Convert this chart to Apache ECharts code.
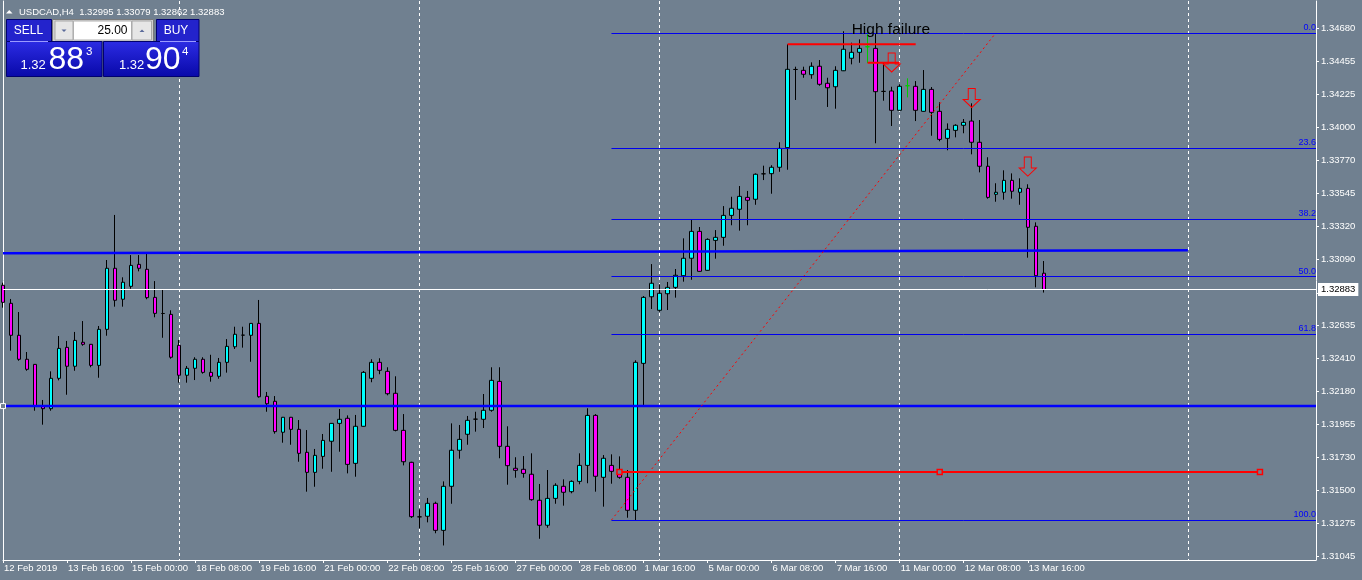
<!DOCTYPE html>
<html><head><meta charset="utf-8">
<script src="https://cdn.jsdelivr.net/npm/echarts@6/dist/echarts.min.js"></script>
<style>html,body{margin:0;padding:0;background:#708090;}#c{width:1362px;height:580px;}</style>
</head><body><div id="c"></div>
<script>
const symbolName = 'USDCAD,H4';
const opens = [1.32912,1.32788,1.32568,1.32403,1.32368,1.32079,1.32063,1.32272,1.32485,1.32355,
1.32520,1.32506,1.32361,1.32609,1.33029,1.32816,1.32905,1.33056,1.33022,1.32829,
1.32718,1.32712,1.32499,1.32293,1.32341,1.32403,1.32313,1.32286,1.32382,1.32489,
1.32569,1.32568,1.32650,1.32148,1.32114,1.31901,1.32004,1.31921,1.31763,1.31625,
1.31735,1.31839,1.31962,1.31997,1.31687,1.31942,1.32272,1.32382,1.32320,1.32169,
1.31914,1.31694,1.31319,1.31323,1.31412,1.31226,1.31529,1.31777,1.31887,1.31991,
1.31990,1.32052,1.32251,1.31804,1.31653,1.31646,1.31612,1.31433,1.31261,1.31446,
1.31529,1.31492,1.31563,1.31673,1.32017,1.31591,1.31673,1.31639,1.31591,1.31364,
1.32375,1.32833,1.32740,1.32854,1.32898,1.32978,1.33098,1.33283,1.33015,1.33221,
1.33242,1.33393,1.33435,1.33517,1.33504,1.33679,1.33680,1.33724,1.33859,1.34397,
1.34391,1.34361,1.34419,1.34302,1.34278,1.34388,1.34474,1.34515,1.34553,1.34542,
1.34246,1.34249,1.34116,1.34285,1.34281,1.34109,1.34260,1.34109,1.33923,1.33978,
1.34013,1.34042,1.33896,1.33731,1.33538,1.33552,1.33634,1.33552,1.33579,1.33318,
1.32995];
const highs = [1.32930,1.32818,1.32728,1.32453,1.32370,1.32123,1.32320,1.32563,1.32529,1.32591,
1.32666,1.32508,1.32632,1.33086,1.33396,1.32967,1.33120,1.33120,1.33132,1.32941,
1.32880,1.32740,1.32536,1.32357,1.32417,1.32417,1.32434,1.32412,1.32542,1.32627,
1.32627,1.32652,1.32811,1.32178,1.32150,1.32006,1.32006,1.31985,1.31916,1.31786,
1.31889,1.31964,1.32061,1.32017,1.32020,1.32322,1.32403,1.32410,1.32348,1.32286,
1.32026,1.31698,1.31371,1.31449,1.31423,1.31563,1.31962,1.31951,1.32013,1.32042,
1.32164,1.32348,1.32348,1.31942,1.31729,1.31737,1.31756,1.31545,1.31641,1.31550,
1.31577,1.31570,1.31756,1.32066,1.32026,1.31744,1.31749,1.31735,1.31641,1.32396,
1.32838,1.33058,1.32919,1.32935,1.33024,1.33235,1.33366,1.33313,1.33235,1.33292,
1.33457,1.33521,1.33595,1.33561,1.33682,1.33735,1.33738,1.33896,1.34570,1.34416,
1.34416,1.34446,1.34462,1.34340,1.34419,1.34660,1.34581,1.34604,1.34661,1.34646,
1.34443,1.34278,1.34295,1.34336,1.34317,1.34393,1.34276,1.34171,1.34026,1.34020,
1.34056,1.34164,1.34049,1.33793,1.33614,1.33703,1.33682,1.33648,1.33607,1.33345,
1.33079];
const lows = [1.32758,1.32462,1.32393,1.32324,1.32049,1.31953,1.32049,1.32258,1.32159,1.32324,
1.32496,1.32348,1.32276,1.32565,1.32765,1.32765,1.32888,1.33008,1.32816,1.32692,
1.32551,1.32407,1.32242,1.32242,1.32260,1.32304,1.32249,1.32269,1.32311,1.32474,
1.32483,1.32386,1.32139,1.32042,1.31891,1.31829,1.31815,1.31698,1.31492,1.31526,
1.31650,1.31629,1.31767,1.31618,1.31595,1.31940,1.32245,1.32300,1.32155,1.31907,
1.31673,1.31311,1.31240,1.31281,1.31206,1.31122,1.31409,1.31719,1.31815,1.31905,
1.31930,1.32042,1.31722,1.31540,1.31588,1.31588,1.31430,1.31168,1.31244,1.31409,
1.31396,1.31481,1.31543,1.31550,1.31492,1.31389,1.31547,1.31581,1.31313,1.31297,
1.32088,1.32749,1.32730,1.32742,1.32827,1.32937,1.32950,1.33006,1.33013,1.33095,
1.33184,1.33325,1.33288,1.33325,1.33466,1.33636,1.33542,1.33693,1.33707,1.34187,
1.34340,1.34333,1.34285,1.34139,1.34127,1.34386,1.34432,1.34443,1.34441,1.33889,
1.34182,1.34008,1.34114,1.34205,1.34042,1.34107,1.33941,1.33903,1.33841,1.33930,
1.33958,1.33813,1.33689,1.33508,1.33487,1.33501,1.33508,1.33466,1.33102,1.32898,
1.32862];
const closes = [1.32795,1.32568,1.32403,1.32334,1.32079,1.32063,1.32272,1.32478,1.32355,1.32533,
1.32506,1.32361,1.32609,1.33029,1.32809,1.32933,1.33049,1.33029,1.32827,1.32719,
1.32718,1.32417,1.32293,1.32341,1.32403,1.32313,1.32286,1.32382,1.32492,1.32575,
1.32569,1.32650,1.32145,1.32097,1.31905,1.32004,1.31921,1.31756,1.31625,1.31742,
1.31845,1.31962,1.31990,1.31680,1.31942,1.32313,1.32382,1.32327,1.32166,1.31914,
1.31698,1.31320,1.31319,1.31412,1.31226,1.31529,1.31777,1.31852,1.31983,1.31991,
1.32052,1.32258,1.31804,1.31671,1.31639,1.31618,1.31437,1.31261,1.31446,1.31536,
1.31488,1.31563,1.31673,1.32017,1.31598,1.31722,1.31632,1.31591,1.31364,1.32382,
1.32829,1.32926,1.32857,1.32898,1.32981,1.33098,1.33283,1.33008,1.33228,1.33242,
1.33393,1.33442,1.33524,1.33497,1.33676,1.33679,1.33724,1.33854,1.34398,1.34397,
1.34364,1.34419,1.34295,1.34271,1.34391,1.34536,1.34515,1.34542,1.34553,1.34244,
1.34246,1.34116,1.34281,1.34285,1.34116,1.34260,1.34102,1.33916,1.33985,1.34013,
1.34033,1.33896,1.33731,1.33517,1.33552,1.33634,1.33559,1.33579,1.33311,1.32978,
1.32883];
const greenDojiBars = [108, 113];
const totalSlots = 165;
const xTickLabels = ['12 Feb 2019','13 Feb 16:00','15 Feb 00:00','18 Feb 08:00','19 Feb 16:00','21 Feb 00:00',
  '22 Feb 08:00','25 Feb 16:00','27 Feb 00:00','28 Feb 08:00','1 Mar 16:00','5 Mar 00:00','6 Mar 08:00',
  '7 Mar 16:00','11 Mar 00:00','12 Mar 08:00','13 Mar 16:00'];
const yTickLabels = ['1.34680','1.34455','1.34225','1.34000','1.33770','1.33545','1.33320','1.33090',
  '1.32635','1.32410','1.32180','1.31955','1.31730','1.31500','1.31275','1.31045'];
const yHiddenTick = '1.32860';
const weekGridBars = [22, 52, 82, 112, 148];
const bidPrice = 1.32883;
const supportLevel = 1.32081;
const trendLine = [[0, 1.33133], [148, 1.33153]];
const fibLevels = ['0.0','23.6','38.2','50.0','61.8','100.0'];
const fibPrices = [1.34648, 1.33857, 1.33368, 1.32971, 1.32577, 1.31297];
const fibStartBar = 76;
const fibTrend = [[76, 1.31297], [124, 1.34648]];
const redLevel = 1.31627;
const redLevelBars = [77, 117, 157];
const highFailureLine = [[98, 1.34570], [114, 1.34570]];
const shortRedLine = [[108, 1.34443], [112, 1.34443]];
const arrowMarks = [[111, 1.34445], [121, 1.34201], [128, 1.33729]];
const noteText = 'High failure';
const notePos = [106, 1.34668];
const lotSize = '25.00';
const sellQuote = ['1.32', '88', '3'];
const buyQuote = ['1.32', '90', '4'];

const FONT = "'Liberation Sans', Arial, sans-serif";
const cats = Array.from({length: totalSlots}, (_, i) => 'b' + i);
const last = opens.length - 1;

const candleData = opens.map((o, i) => {
  const v = [o, closes[i], lows[i], highs[i]];
  if (greenDojiBars.includes(i)) {
    return {value: v, itemStyle: {borderColorDoji: '#00cc00', borderColor: '#00cc00', borderColor0: '#00cc00'}};
  }
  return v;
});

const tickShown = (i) => i % 8 === 0 && (i / 8) < xTickLabels.length;
const pt = (p) => [cats[p[0]], p[1]];

const chart = echarts.init(document.getElementById('c'), null, {renderer: 'canvas'});
const blueGrad = () => new echarts.graphic.LinearGradient(0, 0, 0, 1, [
  {offset: 0, color: '#2c2ce4'}, {offset: 1, color: '#0808a8'}]);

const header = symbolName + '  ' + [opens[last], highs[last], lows[last], closes[last]].map(v => v.toFixed(5)).join(' ');

const option = {
  backgroundColor: '#708090',
  animation: false,
  grid: {left: 3, right: 46, top: 1, bottom: 20, containLabel: false},
  xAxis: {
    type: 'category', data: cats, boundaryGap: false,
    axisLine: {show: true, lineStyle: {color: '#ffffff', width: 1}},
    axisTick: {show: true, length: 3, interval: tickShown, lineStyle: {color: '#ffffff'}},
    axisLabel: {interval: tickShown, formatter: (v, i) => xTickLabels[i / 8] || '', color: '#ffffff',
      align: 'left', margin: 3, fontSize: 9.5, fontFamily: FONT, padding: [0, 0, 0, 1]},
    splitLine: {show: true, interval: (i) => weekGridBars.includes(i), lineStyle: {color: '#ffffff', width: 1, type: [3, 3]}}
  },
  yAxis: [{
    type: 'value', position: 'right', min: 1.31022, max: 1.34868,
    axisLine: {show: true, lineStyle: {color: '#ffffff'}},
    axisTick: {show: true, length: 3, lineStyle: {color: '#ffffff'}, customValues: yTickLabels.concat([yHiddenTick]).map(Number)},
    axisLabel: {color: '#ffffff', fontSize: 9.5, fontFamily: FONT, margin: 5, customValues: yTickLabels.map(Number),
      formatter: (v) => v.toFixed(5)},
    splitLine: {show: false}
  }, {
    type: 'value', position: 'left', min: 1.31022, max: 1.34868,
    axisLine: {show: true, lineStyle: {color: '#ffffff'}},
    axisTick: {show: false}, axisLabel: {show: false}, splitLine: {show: false}
  }],
  series: [
    {
      type: 'candlestick', name: symbolName, data: candleData, barWidth: 4,
      itemStyle: {color: '#00ffff', color0: '#ff00ff', borderColor: '#000000', borderColor0: '#000000',
        borderColorDoji: '#000000', borderWidth: 1},
      z: 2
    },
    {
      type: 'line', name: 'support', z: 3, silent: true,
      data: [{value: [cats[0], supportLevel], symbol: 'rect', symbolSize: 5,
              itemStyle: {color: '#708090', borderColor: '#ffffff', borderWidth: 1}},
             {value: [cats[totalSlots - 1], supportLevel], symbol: 'none'}],
      showSymbol: true, lineStyle: {color: '#0000ff', width: 2.5},
      markLine: {
        silent: true, symbol: ['none', 'none'], animation: false,
        data: fibPrices.map((p, k) => [
          {coord: [cats[fibStartBar], p], lineStyle: {color: '#0000ee', width: 1, type: 'solid'},
           label: {show: true, position: 'insideEndTop', formatter: fibLevels[k], color: '#0000ff',
             fontSize: 9, fontFamily: FONT, distance: [0, 1]}},
          {coord: [cats[totalSlots - 1], p]}
        ]).concat([[
          {coord: [cats[0], bidPrice], lineStyle: {color: '#ffffff', width: 1, type: 'solid'},
           label: {show: true, position: 'end', formatter: bidPrice.toFixed(5), color: '#000000',
             backgroundColor: '#ffffff', padding: [2, 3, 1, 3], fontSize: 9.5, fontFamily: FONT, distance: 2}},
          {coord: [cats[totalSlots - 1], bidPrice]}
        ]])
      }
    },
    {
      type: 'line', name: 'trend', z: 3, silent: true, showSymbol: false,
      data: trendLine.map(pt), lineStyle: {color: '#0000ff', width: 2.5}
    },
    {
      type: 'line', name: 'fibTrend', z: 3, silent: true, showSymbol: false,
      data: fibTrend.map(pt), lineStyle: {color: '#ff0000', width: 1, type: [2, 3]}
    },
    {
      type: 'line', name: 'redLevel', z: 4, silent: true, showSymbol: true, symbol: 'rect', symbolSize: 5,
      itemStyle: {color: '#708090', borderColor: '#ff0000', borderWidth: 1.5},
      data: redLevelBars.map(b => [cats[b], redLevel]), lineStyle: {color: '#ff0000', width: 2}
    },
    {
      type: 'line', name: 'highFailure', z: 4, silent: true, showSymbol: false,
      data: highFailureLine.map(pt), lineStyle: {color: '#ff0000', width: 2}
    },
    {
      type: 'line', name: 'shortRed', z: 4, silent: true, showSymbol: false,
      data: shortRedLine.map(pt), lineStyle: {color: '#ff0000', width: 2},
      markPoint: {
        silent: true, animation: false,
        data: arrowMarks.map(a => ({
          coord: pt(a), symbol: 'path://M5,0 L12,0 L12,11 L17,11 L8.5,19 L0,11 L5,11 Z',
          symbolSize: [17, 19], itemStyle: {color: 'rgba(0,0,0,0)', borderColor: '#ff0000', borderWidth: 1},
          label: {show: false}
        })).concat([{
          coord: pt(notePos), symbol: 'circle', symbolSize: 0,
          label: {show: true, position: 'right', distance: 0, formatter: noteText, color: '#000000',
            fontSize: 15.5, fontFamily: FONT}
        }])
      }
    }
  ],
  graphic: [
    {type: 'polygon', z: 100, shape: {points: [[6, 13.5], [12.5, 13.5], [9.25, 10]]}, style: {fill: '#ffffff'}},
    {type: 'text', z: 100, x: 19, y: 12, style: {text: header, fill: '#ffffff', font: '9.5px ' + FONT, verticalAlign: 'middle'}},
    // SELL button
    {type: 'rect', z: 100, shape: {x: 6.5, y: 19.5, width: 45, height: 22}, style: {fill: '#2323cc', stroke: '#00006e'}},
    {type: 'text', z: 101, x: 28.5, y: 30.5, style: {text: 'SELL', fill: '#ffffff', font: '12px ' + FONT, align: 'center', verticalAlign: 'middle'}},
    // lot box
    {type: 'rect', z: 100, shape: {x: 52.5, y: 19.5, width: 101, height: 22}, style: {fill: '#cfcfcf', stroke: '#7a7a7a'}},
    {type: 'rect', z: 101, shape: {x: 55, y: 21, width: 18, height: 19}, style: {fill: '#e6e6e6', stroke: '#a8a8a8'}},
    {type: 'rect', z: 101, shape: {x: 73.5, y: 21, width: 58, height: 19}, style: {fill: '#ffffff', stroke: '#b0b0b0'}},
    {type: 'rect', z: 101, shape: {x: 132, y: 21, width: 19.5, height: 19}, style: {fill: '#e6e6e6', stroke: '#a8a8a8'}},
    {type: 'polygon', z: 102, shape: {points: [[61.5, 29.5], [66.5, 29.5], [64, 32]]}, style: {fill: '#5a6a9a'}},
    {type: 'polygon', z: 102, shape: {points: [[139.5, 32], [144.5, 32], [142, 29.5]]}, style: {fill: '#5a6a9a'}},
    {type: 'text', z: 102, x: 127.5, y: 31, style: {text: lotSize, fill: '#000000', font: '12px ' + FONT, align: 'right', verticalAlign: 'middle'}},
    // BUY button
    {type: 'rect', z: 100, shape: {x: 156.5, y: 19.5, width: 42.5, height: 22}, style: {fill: '#2323cc', stroke: '#00006e'}},
    {type: 'text', z: 101, x: 176, y: 30.5, style: {text: 'BUY', fill: '#ffffff', font: '12px ' + FONT, align: 'center', verticalAlign: 'middle'}},
    // Big quote panels
    {type: 'rect', z: 100, shape: {x: 6.5, y: 41.5, width: 95.5, height: 35}, style: {fill: blueGrad(), stroke: '#00006e'}},
    {type: 'rect', z: 100, shape: {x: 103.5, y: 41.5, width: 95.5, height: 35}, style: {fill: blueGrad(), stroke: '#00006e'}},
    {type: 'line', z: 101, shape: {x1: 10, y1: 41.5, x2: 48, y2: 41.5}, style: {stroke: '#9a9aff', lineWidth: 1}},
    {type: 'line', z: 101, shape: {x1: 160, y1: 41.5, x2: 196, y2: 41.5}, style: {stroke: '#9a9aff', lineWidth: 1}},
    {type: 'text', z: 101, x: 20.5, y: 72, style: {text: sellQuote[0], fill: '#ffffff', font: '13px ' + FONT, verticalAlign: 'bottom'}},
    {type: 'text', z: 101, x: 48.5, y: 76.5, style: {text: sellQuote[1], fill: '#ffffff', font: '32px ' + FONT, verticalAlign: 'bottom'}},
    {type: 'text', z: 101, x: 86, y: 58, style: {text: sellQuote[2], fill: '#ffffff', font: '11.5px ' + FONT, verticalAlign: 'bottom'}},
    {type: 'text', z: 101, x: 119, y: 72, style: {text: buyQuote[0], fill: '#ffffff', font: '13px ' + FONT, verticalAlign: 'bottom'}},
    {type: 'text', z: 101, x: 145, y: 76.5, style: {text: buyQuote[1], fill: '#ffffff', font: '32px ' + FONT, verticalAlign: 'bottom'}},
    {type: 'text', z: 101, x: 182, y: 58, style: {text: buyQuote[2], fill: '#ffffff', font: '11.5px ' + FONT, verticalAlign: 'bottom'}}
  ]
};
chart.setOption(option);
</script>
</body></html>
